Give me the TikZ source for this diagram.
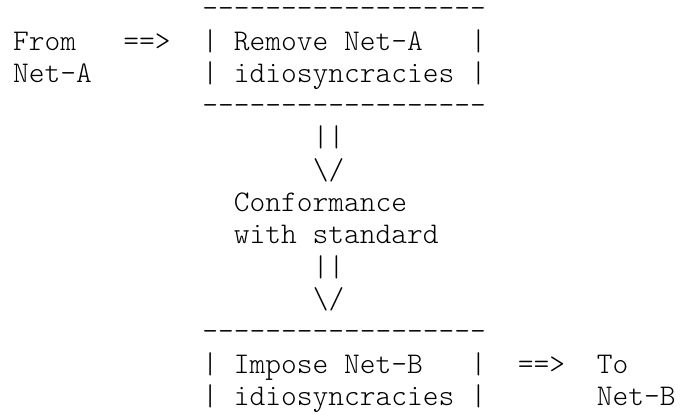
\documentclass[tikz,border=0pt]{standalone}
\usepackage{fontspec}
\begin{document}
\begin{tikzpicture}[x=15.78pt,y=-32.3pt,
  txt/.style={anchor=base west,inner sep=0pt,outer sep=0pt,
    font=\ttfamily\fontseries{l}\selectfont\fontsize{30pt}{32.3pt}\selectfont,text=black},
  rule/.style={txt,text height=0.3em,text depth=0pt}]
\useasboundingbox (-0.824,-0.548) rectangle (42.395,12.424);
% top box
\node[rule] (topdashA) at (12,0) {------------------};
\node[txt] (from) at (0,1) {From};
\node[txt] (arrowin) at (7,1) {==>};
\node[txt] (boxAl1) at (12,1) {|};
\node[txt] (remove) at (14,1) {Remove Net-A};
\node[txt] (boxAr1) at (29,1) {|};
\node[txt] (neta) at (0,2) {Net-A};
\node[txt] (boxAl2) at (12,2) {|};
\node[txt] (idioA) at (14,2) {idiosyncracies};
\node[txt] (boxAr2) at (29,2) {|};
\node[rule] (botdashA) at (12,3) {------------------};
% middle arrow
\node[txt] (shaft1) at (19,4) {||};
\node[txt] (head1) at (19,5) {\textbackslash/};
\node[txt] (conf) at (14,6) {Conformance};
\node[txt] (withstd) at (14,7) {with standard};
\node[txt] (shaft2) at (19,8) {||};
\node[txt] (head2) at (19,9) {\textbackslash/};
% bottom box
\node[rule] (topdashB) at (12,10) {------------------};
\node[txt] (boxBl1) at (12,11) {|};
\node[txt] (impose) at (14,11) {Impose Net-B};
\node[txt] (boxBr1) at (29,11) {|};
\node[txt] (arrowout) at (32,11) {==>};
\node[txt] (to) at (37,11) {To};
\node[txt] (boxBl2) at (12,12) {|};
\node[txt] (idioB) at (14,12) {idiosyncracies};
\node[txt] (boxBr2) at (29,12) {|};
\node[txt] (netb) at (37,12) {Net-B};
\end{tikzpicture}
\end{document}
